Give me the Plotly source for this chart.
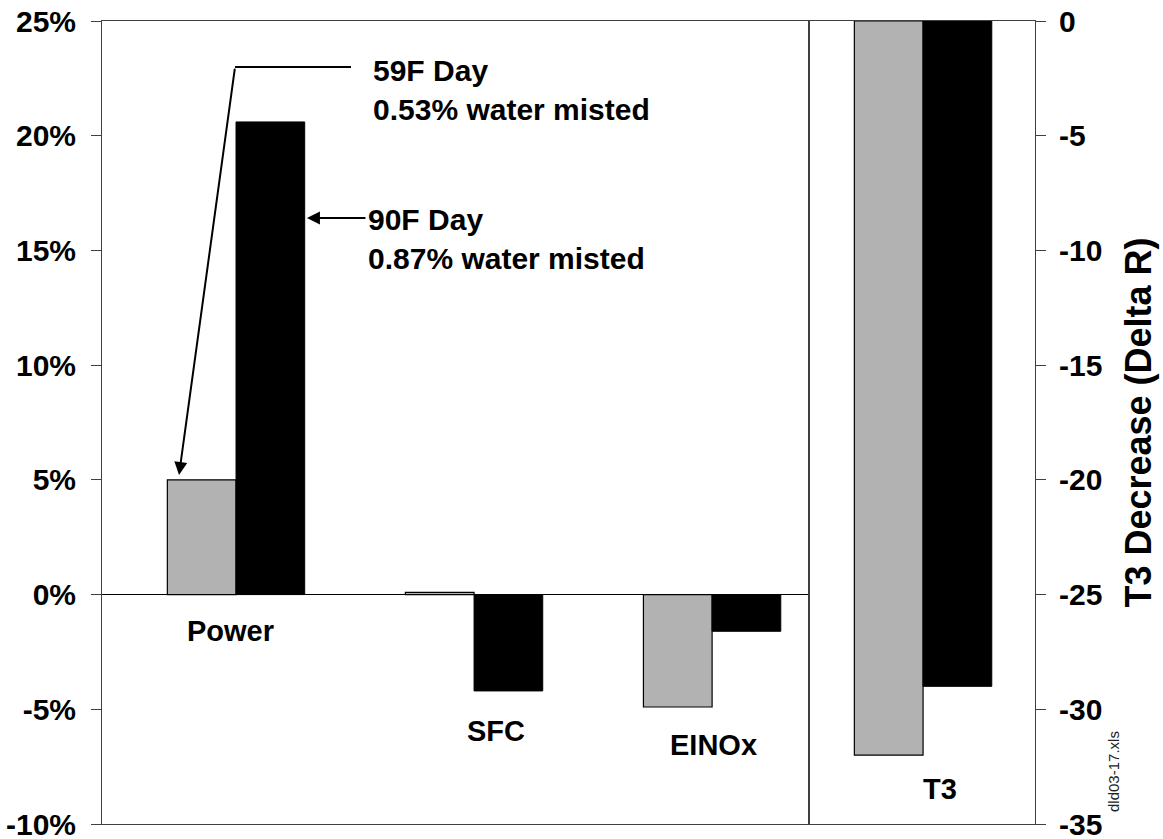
import plotly.graph_objects as go

# ---- data ----
categories_left = ["Power", "SFC", "EINOx"]
categories_right = ["T3"]
day59_pct = [5.0, 0.1, -4.9]        # 59F Day, 0.53% water misted
day90_pct = [20.6, -4.2, -1.6]      # 90F Day, 0.87% water misted
day59_t3 = [-32.0]                  # T3 decrease (Delta R)
day90_t3 = [-29.0]
left_tickvals = [-10, -5, 0, 5, 10, 15, 20, 25]
left_ticktext = ["-10%", "-5%", "0%", "5%", "10%", "15%", "20%", "25%"]
right_tickvals = [-35, -30, -25, -20, -15, -10, -5, 0]
right_ticktext = ["-35", "-30", "-25", "-20", "-15", "-10", "-5", "0"]

GRAY = "#b2b2b2"
BLACK = "#000000"
LINE = "#404040"
FONT = "Liberation Sans, Arial, sans-serif"

fig = go.Figure()
fig.add_trace(go.Bar(x=categories_left, y=day59_pct, name="59F Day",
                     marker=dict(color=GRAY, line=dict(color=BLACK, width=1.2)),
                     xaxis="x", yaxis="y"))
fig.add_trace(go.Bar(x=categories_left, y=day90_pct, name="90F Day",
                     marker=dict(color=BLACK, line=dict(color=BLACK, width=1)),
                     xaxis="x", yaxis="y"))
fig.add_trace(go.Bar(x=categories_right, y=day59_t3, name="59F Day",
                     marker=dict(color=GRAY, line=dict(color=BLACK, width=1.2)),
                     xaxis="x2", yaxis="y2"))
fig.add_trace(go.Bar(x=categories_right, y=day90_t3, name="90F Day",
                     marker=dict(color=BLACK, line=dict(color=BLACK, width=1)),
                     xaxis="x2", yaxis="y2"))

split = 0.7575
tickfont = dict(family=FONT, size=30, color="black", weight="bold")

fig.update_layout(
    width=1163, height=839,
    margin=dict(l=102, r=128, t=21, b=15, autoexpand=False),
    paper_bgcolor="white", plot_bgcolor="white",
    showlegend=False,
    barmode="group", bargap=0.423, bargroupgap=0,
    font=dict(family=FONT, color="black"),
    xaxis=dict(domain=[0, split], anchor="y", type="category", automargin=False,
               categoryorder="array", categoryarray=categories_left,
               range=[-0.563, 2.406], showticklabels=False, ticks="",
               showgrid=False, zeroline=False,
               showline=True, mirror=True, linecolor=LINE, linewidth=1),
    yaxis=dict(domain=[0, 1], anchor="x", range=[-10, 25], automargin=False,
               tickvals=left_tickvals, ticktext=left_ticktext,
               ticks="outside", ticklen=10, tickcolor=LINE, tickwidth=1,
               tickfont=tickfont, ticklabelstandoff=9, ticklabeloverflow="allow",
               showgrid=False,
               zeroline=True, zerolinecolor=BLACK, zerolinewidth=1,
               showline=True, mirror=True, linecolor=LINE, linewidth=1),
    xaxis2=dict(domain=[split, 1], anchor="y2", type="category", automargin=False,
                categoryorder="array", categoryarray=categories_right,
                range=[-0.48, 0.47], showticklabels=False, ticks="",
                showgrid=False, zeroline=False,
                showline=True, mirror=True, linecolor=LINE, linewidth=1),
    yaxis2=dict(anchor="x2", side="right", range=[-35, 0], automargin=False,
                tickvals=right_tickvals, ticktext=right_ticktext,
                ticks="outside", ticklen=10, tickcolor=LINE, tickwidth=1,
                tickfont=tickfont, ticklabelstandoff=7, ticklabeloverflow="allow",
                showgrid=False, zeroline=False,
                showline=True, mirror=True, linecolor=LINE, linewidth=1,
                title=dict(text="T3 Decrease (Delta R)",
                           font=dict(family=FONT, size=36, color="black", weight="bold"),
                           standoff=24)),
    yaxis3=dict(anchor="x2", overlaying="y2", side="right", range=[-35, 0],
                automargin=False,
                tickvals=right_tickvals, ticks="inside", ticklen=10,
                tickcolor=LINE, tickwidth=1, showticklabels=False,
                showgrid=False, zeroline=False, showline=False),
)

catfont = dict(family=FONT, size=29, color="black", weight="bold")
notefont = dict(family=FONT, size=30, color="black", weight="bold")

annotations = [
    dict(x="Power", y=-1.57, xref="x", yref="y", text="Power", showarrow=False,
         xshift=-6, font=catfont),
    dict(x="SFC", y=-5.93, xref="x", yref="y", text="SFC", showarrow=False,
         xshift=22, font=catfont),
    dict(x="EINOx", y=-6.57, xref="x", yref="y", text="EINOx", showarrow=False,
         xshift=1, font=catfont),
    dict(x="T3", y=-33.48, xref="x2", yref="y2", text="T3", showarrow=False,
         xshift=17, font=catfont),
    # callout texts
    dict(x=0.566, y=22.0, xref="x", yref="y", xanchor="left", align="left",
         text="59F Day<br>0.53% water misted", showarrow=False, font=notefont),
    dict(x=0.547, y=15.5, xref="x", yref="y", xanchor="left", align="left",
         text="90F Day<br>0.87% water misted", showarrow=False, font=notefont),
    # callout arrows
    dict(x=-0.2395, y=5.21, xref="x", yref="y", ax=-0.0042, ay=22.99,
         axref="x", ayref="y", text="", showarrow=True, arrowhead=2,
         arrowsize=1.3, arrowwidth=2, arrowcolor=BLACK),
    dict(x=0.298, y=16.41, xref="x", yref="y", ax=0.55, ay=16.41,
         axref="x", ayref="y", text="", showarrow=True, arrowhead=2,
         arrowsize=1.3, arrowwidth=2, arrowcolor=BLACK),
    # file tag
    dict(x=1.0836, y=0.066, xref="paper", yref="paper", text="dld03-17.xls",
         xanchor="center", yanchor="middle",
         textangle=-90, showarrow=False,
         font=dict(family=FONT, size=15, color="#222222")),
]
fig.update_layout(annotations=annotations)

fig.add_shape(type="line", xref="x", yref="y", x0=-0.0042, y0=22.99, x1=0.483, y1=22.99,
              line=dict(color=BLACK, width=2))

fig.write_html("out.html", config={"displayModeBar": False},
               post_script="document.body.style.margin='0';document.body.style.overflow='hidden';")
